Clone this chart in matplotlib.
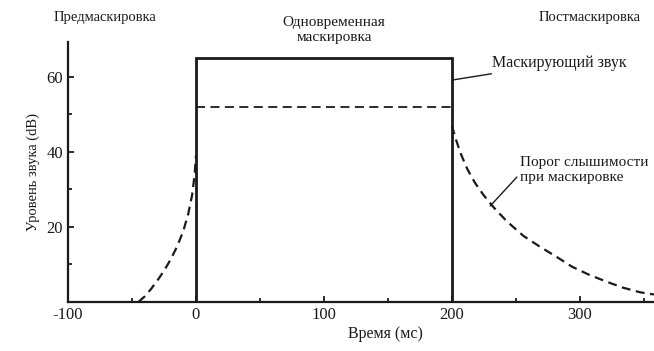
import matplotlib
matplotlib.use("Agg")
import matplotlib.pyplot as plt
from matplotlib.ticker import MultipleLocator

plt.rcParams['font.family'] = ['Liberation Serif', 'DejaVu Serif']
plt.rcParams['axes.unicode_minus'] = False

# Masking sound: on from 0 to 200 ms at 65 dB
masker_t = [0, 0, 200, 200]
masker_level = [0, 65, 65, 0]

# Threshold during simultaneous masking
simul_t = [0, 200]
simul_level = [52, 52]

# Pre-masking threshold (before masker onset)
pre_t = [-45, -40, -35, -30, -25, -20, -15, -10, -6, -3, -1, 0]
pre_level = [0, 1.5, 3.5, 5.8, 8.3, 11.2, 14.6, 18.8, 23.5, 28.5, 34, 39]

# Post-masking threshold (after masker offset)
post_t = [200, 203, 207, 212, 218, 225, 233, 243, 256, 269, 282, 294, 307, 321,
          334, 347, 358]
post_level = [47, 43.5, 39.5, 35.5, 31.8, 28.4, 25.1, 21.5, 17.6, 14.7, 12,
              9.4, 7.3, 5.4, 3.8, 2.6, 2.0]

x_ticks = [-100, 0, 100, 200, 300]
y_ticks = [20, 40, 60]

ink = '#1a1a1a'
W, H = 654, 351
fig = plt.figure(figsize=(W / 100, H / 100), dpi=100)
ax = fig.add_axes([68 / W, 1 - 302 / H, (W - 68) / W, (302 - 42) / H])

ax.plot(masker_t, masker_level, color=ink, lw=2.0, solid_joinstyle='miter')
ax.plot(simul_t, simul_level, color=ink, lw=1.3, dashes=(5, 3))
ax.plot(pre_t, pre_level, color=ink, lw=1.6, dashes=(4, 2.5))
ax.plot(post_t, post_level, color=ink, lw=1.6, dashes=(4, 2.5))

ax.set_xlim(-100, 358)
ax.set_ylim(0, 69.3)
ax.set_xticks(x_ticks)
ax.set_yticks(y_ticks)
ax.xaxis.set_minor_locator(MultipleLocator(50))
ax.yaxis.set_minor_locator(MultipleLocator(10))
ax.tick_params(which='both', direction='in', color=ink, labelcolor=ink,
               labelsize=12, width=1.3)
ax.tick_params(which='major', length=4)
ax.tick_params(which='minor', length=3)

for side in ('top', 'right'):
    ax.spines[side].set_visible(False)
for side in ('left', 'bottom'):
    ax.spines[side].set_color(ink)
    ax.spines[side].set_linewidth(1.6)

ax.set_ylabel('Уровень звука (dB)', fontsize=10.5, color=ink, labelpad=5)
ax.text(148, -8.4, 'Время (мс)', fontsize=11.5, color=ink,
        ha='center', va='center', clip_on=False)

# Annotations with leader lines
ax.annotate('Маскирующий звук', xy=(201, 59.2), xytext=(231, 63.7),
            fontsize=11.5, color=ink, va='center', ha='left',
            arrowprops=dict(arrowstyle='-', color=ink, lw=1.0,
                            shrinkA=0, shrinkB=0))
ax.annotate('Порог слышимости\nпри маскировке', xy=(230, 25.6),
            xytext=(253, 35.2), fontsize=11, color=ink, va='center',
            ha='left', linespacing=1.15,
            arrowprops=dict(arrowstyle='-', color=ink, lw=1.0,
                            shrinkA=0, shrinkB=0,
                            relpos=(0.0, 0.35)))

# Region headings above the plot
fig.text(105 / W, 1 - 18 / H, 'Предмаскировка', fontsize=10.5, color=ink,
         ha='center', va='center')
fig.text(334 / W, 1 - 30 / H, 'Одновременная\nмаскировка', fontsize=11,
         color=ink, ha='center', va='center', linespacing=1.25)
fig.text(590 / W, 1 - 18 / H, 'Постмаскировка', fontsize=10.5, color=ink,
         ha='center', va='center')

fig.savefig('out.png', dpi=100)
